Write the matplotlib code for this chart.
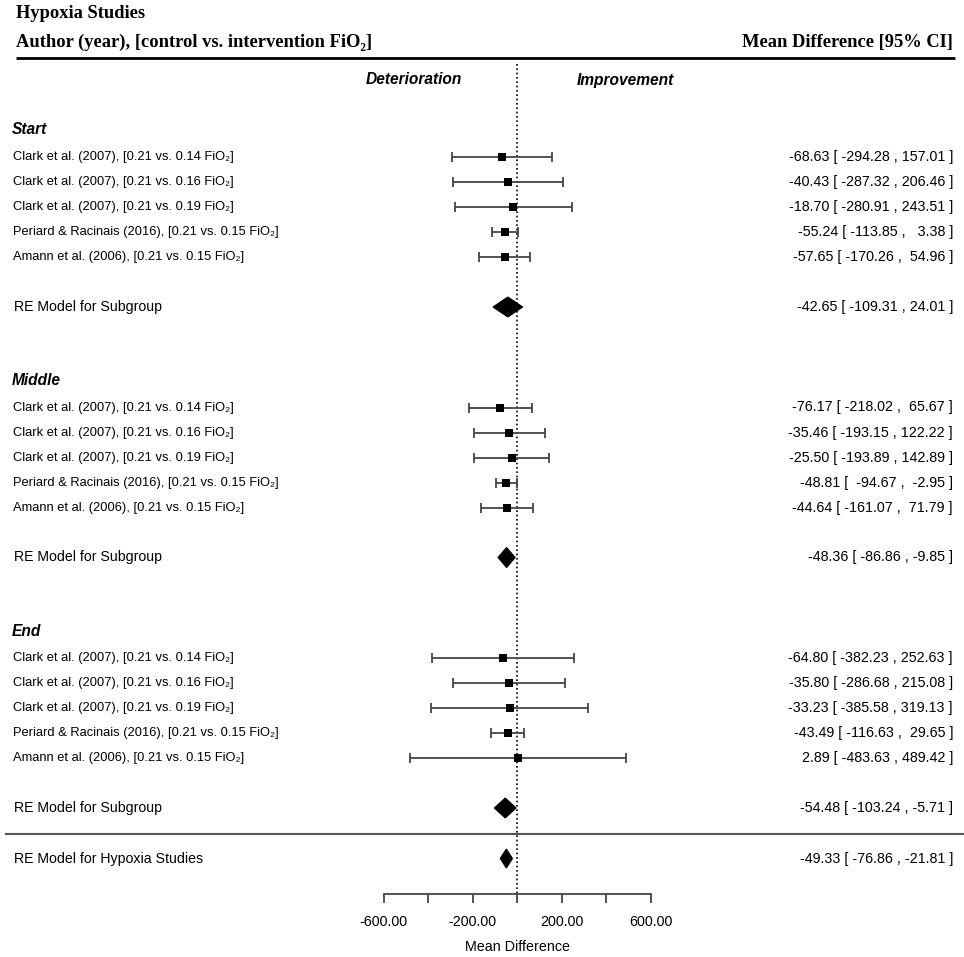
import matplotlib
matplotlib.use("Agg")
import matplotlib.pyplot as plt
from matplotlib.patches import Polygon

# ---------------- data ----------------
title = "Hypoxia Studies"
col_left = "Author (year), [control vs. intervention FiO\u2082]"
col_right = "Mean Difference [95% CI]"
side_left = "Deterioration"
side_right = "Improvement"
groups = ["Start", "Middle", "End"]
study_labels = [
    "Clark et al. (2007), [0.21 vs. 0.14 FiO\u2082]",
    "Clark et al. (2007), [0.21 vs. 0.16 FiO\u2082]",
    "Clark et al. (2007), [0.21 vs. 0.19 FiO\u2082]",
    "Periard & Racinais (2016), [0.21 vs. 0.15 FiO\u2082]",
    "Amann et al. (2006), [0.21 vs. 0.15 FiO\u2082]",
]
start_est = [-68.63, -40.43, -18.70, -55.24, -57.65]
start_lo = [-294.28, -287.32, -280.91, -113.85, -170.26]
start_hi = [157.01, 206.46, 243.51, 3.38, 54.96]
middle_est = [-76.17, -35.46, -25.50, -48.81, -44.64]
middle_lo = [-218.02, -193.15, -193.89, -94.67, -161.07]
middle_hi = [65.67, 122.22, 142.89, -2.95, 71.79]
end_est = [-64.80, -35.80, -33.23, -43.49, 2.89]
end_lo = [-382.23, -286.68, -385.58, -116.63, -483.63]
end_hi = [252.63, 215.08, 319.13, 29.65, 489.42]
sub_label = "RE Model for Subgroup"
sub_est = [-42.65, -48.36, -54.48]
sub_lo = [-109.31, -86.86, -103.24]
sub_hi = [24.01, -9.85, -5.71]
overall_label = "RE Model for Hypoxia Studies"
overall_est = -49.33
overall_lo = -76.86
overall_hi = -21.81
xticks = [-600, -400, -200, 0, 200, 400, 600]
xtick_labels = ["-600.00", "", "-200.00", "", "200.00", "", "600.00"]
xlabel = "Mean Difference"

group_est = [start_est, middle_est, end_est]
group_lo = [start_lo, middle_lo, end_lo]
group_hi = [start_hi, middle_hi, end_hi]

# ---------------- layout ----------------
W, H = 964, 957
fig = plt.figure(figsize=(W / 100, H / 100), dpi=100)
ax = fig.add_axes([0, 0, 1, 1])
zero_px = 517.35
ppu = 0.22275          # pixels per data unit
ax.set_xlim(-zero_px / ppu, (W - zero_px) / ppu)
ax.set_ylim(H, 0)


def X(px):
    return (px - zero_px) / ppu


SANS = ["Liberation Sans", "DejaVu Sans"]
SERIF = ["Liberation Serif", "DejaVu Serif"]
ci_col = "#454545"

# axis at bottom using the axes' own spine / ticks
axis_y = 894
for s in ["top", "left", "right"]:
    ax.spines[s].set_visible(False)
ax.spines["bottom"].set_position(("data", axis_y))
ax.spines["bottom"].set_bounds(xticks[0], xticks[-1])
ax.spines["bottom"].set_color(ci_col)
ax.spines["bottom"].set_linewidth(1.3)
ax.set_yticks([])
ax.set_xticks(xticks)
ax.set_xticklabels(xtick_labels, fontfamily=SANS, fontsize=10.3)
ax.tick_params(axis="x", direction="out", length=6.5, width=1.3, color=ci_col, pad=8.5)
ax.text(0, 947, xlabel, ha="center", va="center", fontsize=10.3, family=SANS)

# headers
ax.text(X(16), 13, title, ha="left", va="center", fontsize=13.3, family=SERIF, fontweight="bold")
ax.text(X(16), 42, col_left, ha="left", va="center", fontsize=13.3, family=SERIF, fontweight="bold")
ax.text(X(953), 42, col_right, ha="right", va="center", fontsize=13.3, family=SERIF, fontweight="bold")
ax.plot([X(16), X(955)], [58, 58], color="black", lw=2.0, solid_capstyle="butt")
ax.text(X(414), 80, side_left, ha="center", va="center", fontsize=11.2, family=SANS,
        fontweight="bold", fontstyle="italic")
ax.text(X(625), 80, side_right, ha="center", va="center", fontsize=11.2, family=SANS,
        fontweight="bold", fontstyle="italic")

# reference line at zero
ax.vlines(0, 64, axis_y, colors="black", linestyles=(0, (1, 1.6)), lw=1.2, zorder=1)

# annotation formatting (padded across all studies)
all_est = start_est + middle_est + end_est
all_lo = start_lo + middle_lo + end_lo
all_hi = start_hi + middle_hi + end_hi
w_e = max(len(f"{v:.2f}") for v in all_est)
w_l = max(len(f"{v:.2f}") for v in all_lo)
w_h = max(len(f"{v:.2f}") for v in all_hi)


def annot(e, l, h, pad=True):
    if pad:
        return f"{e:.2f}".rjust(w_e) + " [ " + f"{l:.2f}".rjust(w_l) + " , " + f"{h:.2f}".rjust(w_h) + " ]"
    return f"{e:.2f} [ {l:.2f} , {h:.2f} ]"


row_h = 25.1
group_step = 250.5
first_study_y = 157
cap = 5.0
sq_side = 7.5  # px
sq_s = (sq_side * 0.72) ** 2
dia_h = 10.0


def diamond(e, l, h, y, hh):
    ax.add_patch(Polygon([(l, y), (e, y - hh), (h, y), (e, y + hh)], closed=True,
                         facecolor="black", edgecolor="black", lw=0.8, zorder=3))


for g, gname in enumerate(groups):
    y0 = first_study_y + g * group_step
    ax.text(X(12), y0 - 27, gname, ha="left", va="center", fontsize=11.2, family=SANS,
            fontweight="bold", fontstyle="italic")
    ys = [y0 + i * row_h for i in range(len(study_labels))]
    est, lo, hi = group_est[g], group_lo[g], group_hi[g]
    ax.hlines(ys, lo, hi, colors=ci_col, lw=1.3, zorder=2)
    ax.vlines(lo, [y - cap for y in ys], [y + cap for y in ys], colors=ci_col, lw=1.3, zorder=2)
    ax.vlines(hi, [y - cap for y in ys], [y + cap for y in ys], colors=ci_col, lw=1.3, zorder=2)
    ax.scatter(est, ys, marker="s", s=sq_s, color="black", linewidths=0, zorder=3)
    for i, lab in enumerate(study_labels):
        ax.text(X(13), ys[i], lab, ha="left", va="center", fontsize=9.3, family=SANS)
        ax.text(X(953), ys[i], annot(est[i], lo[i], hi[i]), ha="right", va="center",
                fontsize=10.3, family=SANS)
    y_re = y0 + 6 * row_h - 0.6
    diamond(sub_est[g], sub_lo[g], sub_hi[g], y_re, dia_h)
    ax.text(X(14), y_re, sub_label, ha="left", va="center", fontsize=10.2, family=SANS)
    ax.text(X(953), y_re, annot(sub_est[g], sub_lo[g], sub_hi[g], pad=False), ha="right",
            va="center", fontsize=10.3, family=SANS)

# separator + overall
ax.plot([X(5), X(964)], [833.5, 833.5], color="#555555", lw=1.5, solid_capstyle="butt")
y_all = 858.5
diamond(overall_est, overall_lo, overall_hi, y_all, 9.5)
ax.text(X(14), y_all, overall_label, ha="left", va="center", fontsize=10.2, family=SANS)
ax.text(X(953), y_all, annot(overall_est, overall_lo, overall_hi, pad=False), ha="right",
        va="center", fontsize=10.3, family=SANS)

fig.savefig("out.png", dpi=100, facecolor="white")
